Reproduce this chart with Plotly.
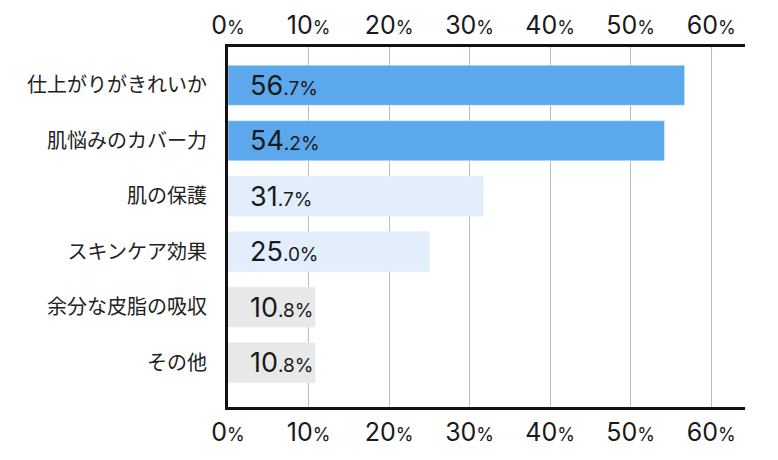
import plotly.graph_objects as go

categories = ['仕上がりがきれいか', '肌悩みのカバー力', '肌の保護', 'スキンケア効果', '余分な皮脂の吸収', 'その他']
values = [56.7, 54.2, 31.7, 25.0, 10.8, 10.8]
bar_colors = ['#5BA8EC', '#5BA8EC', '#E2EEFB', '#E2EEFB', '#E8E8E8', '#E8E8E8']
tick_vals = [0, 10, 20, 30, 40, 50, 60]

JP = 'Noto Sans CJK JP'
NUM = 'Inter, Noto Sans CJK JP'


def pct(v, small=19):
    whole, dec = f'{v:.1f}'.split('.')
    return f"{whole}<span style='font-size:{small}px'>.{dec}%</span>"


tick_text = [f"{t}<span style='font-size:18px'>%</span>" for t in tick_vals]

fig = go.Figure()
fig.add_trace(go.Bar(
    y=categories, x=values, orientation='h',
    marker=dict(color=bar_colors, line=dict(width=0)),
    width=0.72, hoverinfo='skip', showlegend=False,
))
# invisible copy so the top axis is drawn
fig.add_trace(go.Bar(
    y=categories, x=values, orientation='h', xaxis='x2',
    marker=dict(color='rgba(0,0,0,0)'), width=0.72,
    hoverinfo='skip', showlegend=False,
))

for c, v in zip(categories, values):
    fig.add_annotation(
        x=0, y=c, xref='x', yref='y', xanchor='left', yanchor='middle',
        xshift=20, showarrow=False, text=pct(v),
        font=dict(family=NUM, size=27, color='#1a1a1a'),
    )

axis_common = dict(
    range=[0, 64.2], tickvals=tick_vals, ticktext=tick_text,
    showgrid=True, gridcolor='#BDBDBD', gridwidth=1,
    showline=True, linecolor='#111111', linewidth=3,
    ticks='', zeroline=False, automargin=False,
    tickfont=dict(family=NUM, size=25, color='#1a1a1a'),
)

# page body adds an 8px margin, so the figure is 8px smaller
fig.update_layout(
    width=770, height=452,
    margin=dict(l=220, r=33, t=39, b=53),
    plot_bgcolor='white', paper_bgcolor='white',
    xaxis=dict(side='bottom', ticklabelstandoff=1, **axis_common),
    xaxis2=dict(side='top', overlaying='x', matches='x', ticklabelstandoff=0, **axis_common),
    yaxis=dict(
        type='category', range=[5.8, -0.69], showline=True,
        linecolor='#111111', linewidth=3, ticks='', showgrid=False,
        automargin=False,
        tickfont=dict(family=JP, size=20, color='#222222'),
        ticklabelstandoff=14,
    ),
)

fig.write_html('out.html')
